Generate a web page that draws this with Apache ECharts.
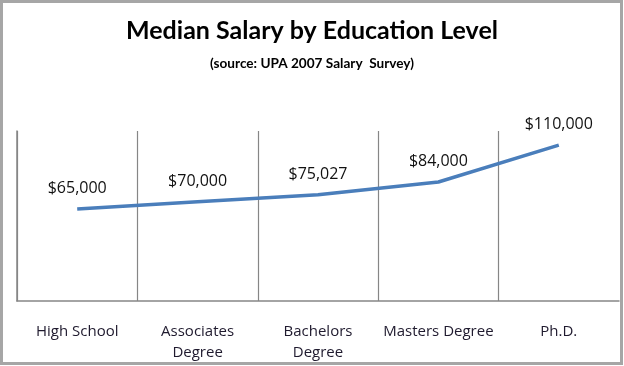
<!DOCTYPE html>
<html><head><meta charset="utf-8">
<script src="https://cdn.jsdelivr.net/npm/echarts@6/dist/echarts.min.js"></script>
<style>html,body{margin:0;padding:0;background:#fff}#c{width:624px;height:366px}</style>
</head><body><div id="c"></div>
<script>
const categories = ['High School', 'Associates\nDegree', 'Bachelors\nDegree', 'Masters Degree', 'Ph.D.'];
const salaries = [65000, 70000, 75027, 84000, 110000];
const titleText = 'Median Salary by Education Level';
const subtitleText = '(source: UPA 2007 Salary  Survey)';

const chart = echarts.init(document.getElementById('c'), null, {renderer: 'canvas'});
const fmt = v => '$' + v.toLocaleString('en-US');
chart.setOption({
  animation: false,
  backgroundColor: '#fff',
  title: [{
    text: titleText, left: 'center', top: 13,
    textStyle: {fontFamily: 'Lato', fontWeight: 'bold', fontSize: 25, color: '#000'}
  }, {
    text: subtitleText, left: 'center', top: 52,
    textStyle: {fontFamily: 'Lato', fontWeight: 'bold', fontSize: 13.6, color: '#000'}
  }],
  graphic: [{
    type: 'rect', silent: true, z: 100,
    shape: {x: 1.5, y: 1.5, width: 620, height: 362},
    style: {fill: 'none', stroke: '#a6a6a6', lineWidth: 3}
  }],
  grid: {left: 17, right: 5, top: 131, bottom: 65},
  xAxis: {
    type: 'category', data: categories, boundaryGap: true,
    axisLine: {show: true, lineStyle: {color: '#868686', width: 1.5}},
    axisTick: {show: false},
    splitLine: {show: true, lineStyle: {color: ['#868686','#868686','#868686','#868686','#868686','rgba(0,0,0,0)'], width: 1.2}},
    axisLabel: {fontFamily: 'Open Sans', fontSize: 15, color: '#1f1a2e', margin: 20, lineHeight: 21, interval: 0}
  },
  yAxis: {
    type: 'value', min: 0, max: 120000, interval: 20000,
    axisLine: {show: true, lineStyle: {color: '#868686', width: 1.5}},
    axisTick: {show: false}, axisLabel: {show: false}, splitLine: {show: false}
  },
  series: [{
    type: 'line', data: salaries, symbol: 'circle', symbolSize: 1, showSymbol: true,
    itemStyle: {color: 'rgba(0,0,0,0)'},
    lineStyle: {color: '#4a7ebb', width: 3.5},
    label: {show: true, position: 'top', distance: 12, formatter: p => fmt(p.value),
      fontFamily: 'Open Sans', fontSize: 16, color: '#111'}
  }]
});
</script></body></html>
